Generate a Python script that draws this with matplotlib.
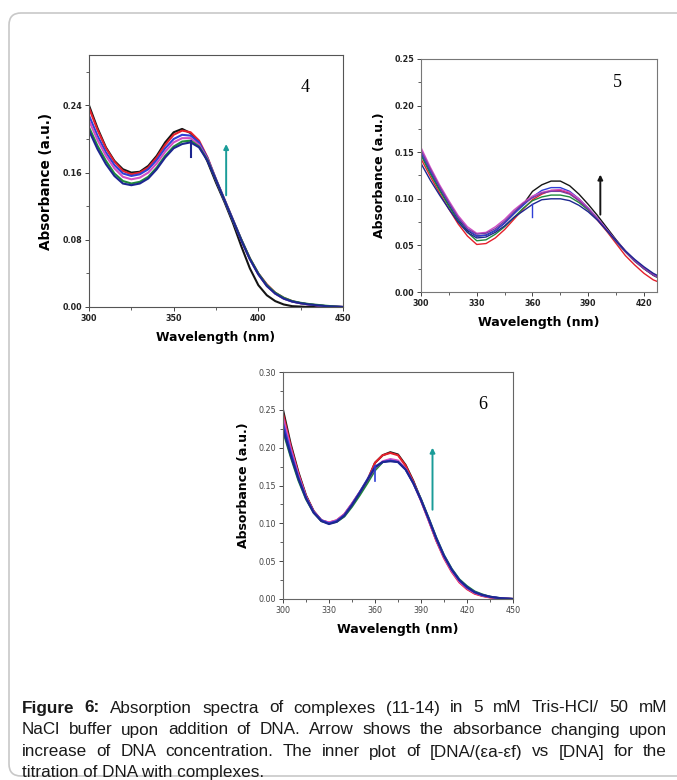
import matplotlib
matplotlib.use("Agg")
import matplotlib.pyplot as plt
from matplotlib.patches import FancyBboxPatch
from matplotlib.ticker import MultipleLocator, FormatStrFormatter

# ---- data ----
wl4 = [300, 305, 310, 315, 320, 325, 330, 335, 340, 345, 350, 355, 360, 365, 370,
       375, 380, 385, 390, 395, 400, 405, 410, 415, 420, 425, 430, 435, 440, 445, 450]
black4 = [0.240, 0.213, 0.190, 0.174, 0.164, 0.160, 0.161, 0.168, 0.180, 0.196, 0.208, 0.212, 0.207,
          0.195, 0.173, 0.148, 0.125, 0.100, 0.072, 0.046, 0.026, 0.014, 0.007, 0.003, 0.001, 0.0005,
          0, 0, 0, 0, 0]
red4 = [0.237, 0.211, 0.189, 0.173, 0.162, 0.158, 0.160, 0.166, 0.178, 0.193, 0.205, 0.210, 0.208,
        0.198, 0.178, 0.152, 0.128, 0.104, 0.080, 0.058, 0.040, 0.027, 0.017, 0.011, 0.007, 0.0045,
        0.003, 0.002, 0.001, 0.0005, 0]
blue4 = [0.228, 0.204, 0.184, 0.169, 0.159, 0.156, 0.158, 0.164, 0.175, 0.189, 0.200, 0.205, 0.204,
         0.196, 0.177, 0.152, 0.128, 0.104, 0.080, 0.057, 0.039, 0.026, 0.016, 0.010, 0.0065, 0.0045,
         0.003, 0.002, 0.001, 0.0005, 0]
magenta4 = [0.222, 0.199, 0.180, 0.165, 0.155, 0.152, 0.154, 0.160, 0.171, 0.185, 0.196, 0.201, 0.201,
            0.193, 0.176, 0.151, 0.127, 0.103, 0.079, 0.057, 0.039, 0.025, 0.016, 0.010, 0.0065, 0.0045,
            0.003, 0.002, 0.001, 0.0005, 0]
green4 = [0.214, 0.192, 0.174, 0.159, 0.150, 0.147, 0.149, 0.155, 0.166, 0.180, 0.191, 0.197, 0.198,
          0.191, 0.175, 0.151, 0.127, 0.103, 0.080, 0.058, 0.040, 0.026, 0.017, 0.011, 0.007, 0.005,
          0.0035, 0.0025, 0.0015, 0.0007, 0]
navy4 = [0.210, 0.188, 0.170, 0.156, 0.147, 0.145, 0.147, 0.153, 0.164, 0.178, 0.189, 0.194, 0.196,
         0.190, 0.174, 0.151, 0.127, 0.103, 0.079, 0.057, 0.039, 0.025, 0.016, 0.010, 0.0065, 0.0045,
         0.003, 0.002, 0.001, 0.0005, 0]
glitch4_x = [360, 360]
glitch4_y = [0.198, 0.179]
arrow4 = [381, 0.133, 0.194]

wl5 = [300, 305, 310, 315, 320, 325, 330, 335, 340, 345, 350, 355, 360, 365, 370,
       375, 380, 385, 390, 395, 400, 405, 410, 415, 420, 425, 430]
black5 = [0.148, 0.128, 0.110, 0.093, 0.078, 0.066, 0.060, 0.061, 0.066, 0.074, 0.084, 0.094, 0.108,
          0.115, 0.119, 0.119, 0.114, 0.105, 0.094, 0.082, 0.069, 0.056, 0.044, 0.034, 0.025, 0.018, 0.013]
red5 = [0.143, 0.124, 0.106, 0.089, 0.073, 0.060, 0.051, 0.052, 0.058, 0.067, 0.078, 0.089, 0.099,
        0.105, 0.109, 0.109, 0.106, 0.098, 0.088, 0.077, 0.065, 0.052, 0.039, 0.029, 0.020, 0.013, 0.009]
green5 = [0.147, 0.127, 0.109, 0.092, 0.076, 0.064, 0.055, 0.056, 0.062, 0.070, 0.080, 0.090, 0.098,
          0.102, 0.104, 0.104, 0.102, 0.096, 0.088, 0.078, 0.066, 0.054, 0.043, 0.033, 0.025, 0.018, 0.013]
blue5 = [0.150, 0.130, 0.112, 0.095, 0.079, 0.067, 0.060, 0.061, 0.066, 0.074, 0.084, 0.093, 0.102,
         0.109, 0.112, 0.112, 0.108, 0.100, 0.090, 0.079, 0.067, 0.055, 0.044, 0.034, 0.026, 0.019, 0.014]
magenta5 = [0.155, 0.134, 0.115, 0.098, 0.082, 0.070, 0.063, 0.064, 0.070, 0.078, 0.088, 0.096, 0.103,
            0.107, 0.109, 0.110, 0.107, 0.100, 0.090, 0.079, 0.067, 0.055, 0.044, 0.034, 0.026, 0.019, 0.014]
purple5 = [0.152, 0.132, 0.113, 0.096, 0.080, 0.068, 0.062, 0.063, 0.068, 0.076, 0.086, 0.095, 0.101,
           0.106, 0.108, 0.108, 0.105, 0.098, 0.089, 0.078, 0.066, 0.054, 0.043, 0.033, 0.025, 0.018, 0.013]
navy5 = [0.138, 0.120, 0.104, 0.089, 0.075, 0.064, 0.058, 0.059, 0.064, 0.071, 0.080, 0.087, 0.094,
         0.099, 0.100, 0.100, 0.098, 0.093, 0.086, 0.077, 0.066, 0.055, 0.044, 0.035, 0.027, 0.020, 0.015]
glitch5_x = [360, 360]
glitch5_y = [0.094, 0.081]
arrow5 = [396.5, 0.083, 0.126]

wl6 = wl4
black6 = [0.250, 0.205, 0.168, 0.137, 0.116, 0.104, 0.100, 0.103, 0.111, 0.125, 0.140, 0.156, 0.180,
          0.190, 0.194, 0.191, 0.177, 0.156, 0.131, 0.105, 0.078, 0.056, 0.038, 0.024, 0.014, 0.008,
          0.0045, 0.0025, 0.0013, 0.0005, 0]
red6 = [0.245, 0.202, 0.166, 0.136, 0.116, 0.104, 0.101, 0.104, 0.112, 0.126, 0.141, 0.157, 0.180,
        0.190, 0.193, 0.190, 0.176, 0.155, 0.130, 0.104, 0.077, 0.054, 0.036, 0.022, 0.013, 0.007,
        0.004, 0.002, 0.001, 0.0004, 0]
magenta6 = [0.240, 0.199, 0.164, 0.135, 0.115, 0.104, 0.101, 0.104, 0.112, 0.126, 0.141, 0.157, 0.173,
            0.182, 0.185, 0.183, 0.172, 0.153, 0.130, 0.104, 0.078, 0.055, 0.037, 0.023, 0.014, 0.008,
            0.0045, 0.0025, 0.0013, 0.0005, 0]
green6 = [0.222, 0.188, 0.157, 0.132, 0.114, 0.103, 0.100, 0.102, 0.109, 0.122, 0.137, 0.153, 0.170,
          0.181, 0.184, 0.182, 0.172, 0.154, 0.132, 0.107, 0.081, 0.058, 0.040, 0.026, 0.017, 0.010,
          0.006, 0.003, 0.0015, 0.0006, 0]
blue6 = [0.232, 0.194, 0.161, 0.134, 0.115, 0.104, 0.100, 0.103, 0.111, 0.125, 0.141, 0.158, 0.175,
         0.181, 0.183, 0.181, 0.171, 0.153, 0.131, 0.106, 0.080, 0.057, 0.039, 0.025, 0.015, 0.009,
         0.005, 0.003, 0.0015, 0.0006, 0]
navy6 = [0.225, 0.190, 0.159, 0.133, 0.114, 0.103, 0.099, 0.102, 0.110, 0.124, 0.140, 0.157, 0.174,
         0.181, 0.182, 0.181, 0.171, 0.153, 0.131, 0.106, 0.080, 0.057, 0.039, 0.025, 0.016, 0.009,
         0.0055, 0.003, 0.0015, 0.0006, 0]
glitch6_x = [360, 360]
glitch6_y = [0.176, 0.156]
arrow6 = [397.5, 0.118, 0.200]

caption_lines = [
    "Figure 6: Absorption spectra of complexes (11-14) in 5 mM Tris-HCl/ 50 mM",
    "NaCl buffer upon addition of DNA. Arrow shows the absorbance changing upon",
    "increase of DNA concentration. The inner plot of [DNA/(εa-εf) vs [DNA] for the",
    "titration of DNA with complexes.",
]

C_BLACK = "#151515"
C_RED = "#e5202b"
C_MAG = "#d24fc4"
C_GREEN = "#1f8a3c"
C_BLUE = "#2f3fd6"
C_NAVY = "#1d2690"
C_PURPLE = "#7b3aa5"
C_TEAL = "#1a9c98"

W, H = 677, 780
fig = plt.figure(figsize=(W / 100, H / 100), dpi=100)


def px_axes(left, top, right, bottom):
    return fig.add_axes([left / W, 1 - bottom / H, (right - left) / W, (bottom - top) / H])


def style_axes(ax, bold=True, spine_color="#555555"):
    for s in ax.spines.values():
        s.set_color(spine_color)
        s.set_linewidth(0.8)
    ax.tick_params(which="major", direction="out", length=3, width=0.7, color="#444444",
                   labelsize=5.8, pad=2)
    ax.tick_params(which="minor", direction="out", length=2, width=0.6, color="#444444")
    for lab in ax.get_xticklabels() + ax.get_yticklabels():
        lab.set_fontweight("bold" if bold else "normal")
        lab.set_color("#222222" if bold else "#444444")


def add_arrow(ax, spec, color):
    x, y0, y1 = spec
    ax.annotate("", xy=(x, y1), xytext=(x, y0),
                arrowprops=dict(arrowstyle="-|>", color=color, lw=1.4, mutation_scale=7,
                                shrinkA=0, shrinkB=0))


# ---- panel 4 ----
ax4 = px_axes(89, 55, 343, 307)
for ys, c in [(black4, C_BLACK), (red4, C_RED), (blue4, C_BLUE), (magenta4, C_MAG),
              (green4, C_GREEN), (navy4, C_NAVY)]:
    ax4.plot(wl4, ys, color=c, lw=1.5)
ax4.plot(glitch4_x, glitch4_y, color=C_NAVY, lw=1.5)
add_arrow(ax4, arrow4, C_TEAL)
ax4.set_xlim(300, 450)
ax4.set_ylim(0, 0.30)
ax4.xaxis.set_major_locator(MultipleLocator(50))
ax4.xaxis.set_minor_locator(MultipleLocator(25))
ax4.set_yticks([0, 0.08, 0.16, 0.24])
ax4.yaxis.set_minor_locator(MultipleLocator(0.04))
ax4.yaxis.set_major_formatter(FormatStrFormatter("%.2f"))
ax4.set_xlabel("Wavelength (nm)", fontsize=8.8, fontweight="bold", labelpad=6)
ax4.set_ylabel("Absorbance (a.u.)", fontsize=9.8, fontweight="bold", labelpad=7)
ax4.text(0.85, 0.87, "4", transform=ax4.transAxes, fontsize=13, family="Liberation Serif",
         ha="center", va="center")
style_axes(ax4)

# ---- panel 5 ----
ax5 = px_axes(421, 59, 657, 292)
for ys, c in [(black5, C_BLACK), (red5, C_RED), (green5, C_GREEN), (blue5, C_BLUE),
              (magenta5, C_MAG), (purple5, C_PURPLE), (navy5, C_NAVY)]:
    ax5.plot(wl5, ys, color=c, lw=1.0)
ax5.plot(glitch5_x, glitch5_y, color=C_BLUE, lw=1.0)
add_arrow(ax5, arrow5, C_BLACK)
ax5.set_xlim(300, 427)
ax5.set_ylim(0, 0.25)
ax5.xaxis.set_major_locator(MultipleLocator(30))
ax5.xaxis.set_minor_locator(MultipleLocator(15))
ax5.yaxis.set_major_locator(MultipleLocator(0.05))
ax5.yaxis.set_minor_locator(MultipleLocator(0.025))
ax5.yaxis.set_major_formatter(FormatStrFormatter("%.2f"))
ax5.set_xlabel("Wavelength (nm)", fontsize=9, fontweight="bold", labelpad=6)
ax5.set_ylabel("Absorbance (a.u.)", fontsize=9, fontweight="bold", labelpad=6)
ax5.text(0.83, 0.90, "5", transform=ax5.transAxes, fontsize=13, family="Liberation Serif",
         ha="center", va="center")
style_axes(ax5, spine_color="#777777")

# ---- panel 6 ----
ax6 = px_axes(283, 372, 513, 599)
for ys, c in [(black6, C_BLACK), (green6, C_GREEN), (red6, C_RED), (magenta6, C_MAG),
              (blue6, C_BLUE), (navy6, C_NAVY)]:
    ax6.plot(wl6, ys, color=c, lw=1.5)
ax6.plot(glitch6_x, glitch6_y, color=C_BLUE, lw=1.2)
add_arrow(ax6, arrow6, C_TEAL)
ax6.set_xlim(300, 450)
ax6.set_ylim(0, 0.30)
ax6.xaxis.set_major_locator(MultipleLocator(30))
ax6.xaxis.set_minor_locator(MultipleLocator(15))
ax6.yaxis.set_major_locator(MultipleLocator(0.05))
ax6.yaxis.set_minor_locator(MultipleLocator(0.025))
ax6.yaxis.set_major_formatter(FormatStrFormatter("%.2f"))
ax6.set_xlabel("Wavelength (nm)", fontsize=9, fontweight="bold", labelpad=6)
ax6.set_ylabel("Absorbance (a.u.)", fontsize=9, fontweight="bold", labelpad=6)
ax6.text(0.87, 0.855, "6", transform=ax6.transAxes, fontsize=13, family="Liberation Serif",
         ha="center", va="center")
style_axes(ax6, bold=False, spine_color="#666666")

# ---- frame round the figure ----
frame = FancyBboxPatch((9 / 100, 4 / 100), 7.2, (H - 17) / 100,
                       boxstyle="round,pad=0,rounding_size=0.12",
                       transform=fig.dpi_scale_trans, facecolor="none",
                       edgecolor="#c8c8c8", lw=1.2)
fig.patches.append(frame)

# ---- justified caption ----
fig.canvas.draw()
renderer = fig.canvas.get_renderer()
cap_font = dict(fontsize=12.3, family="Liberation Sans", color="#1a1a1a")
x_left, x_right = 22, 667
line_y = [708, 730, 752, 773]


def word_width(word, weight):
    t = fig.text(0, 0, word, fontweight=weight, **cap_font)
    w = t.get_window_extent(renderer).width
    t.remove()
    return w


for i, line in enumerate(caption_lines):
    words = line.split(" ")
    weights = ["bold" if (i == 0 and j < 2) else "normal" for j in range(len(words))]
    yf = 1 - line_y[i] / H
    if i == len(caption_lines) - 1:
        fig.text(x_left / W, yf, line, va="center", ha="left", **cap_font)
        continue
    widths = [word_width(w, wt) for w, wt in zip(words, weights)]
    gap = (x_right - x_left - sum(widths)) / (len(words) - 1)
    x = x_left
    for w, wt, ww in zip(words, weights, widths):
        fig.text(x / W, yf, w, va="center", ha="left", fontweight=wt, **cap_font)
        x += ww + gap

fig.savefig("out.png", dpi=100, facecolor="white")
